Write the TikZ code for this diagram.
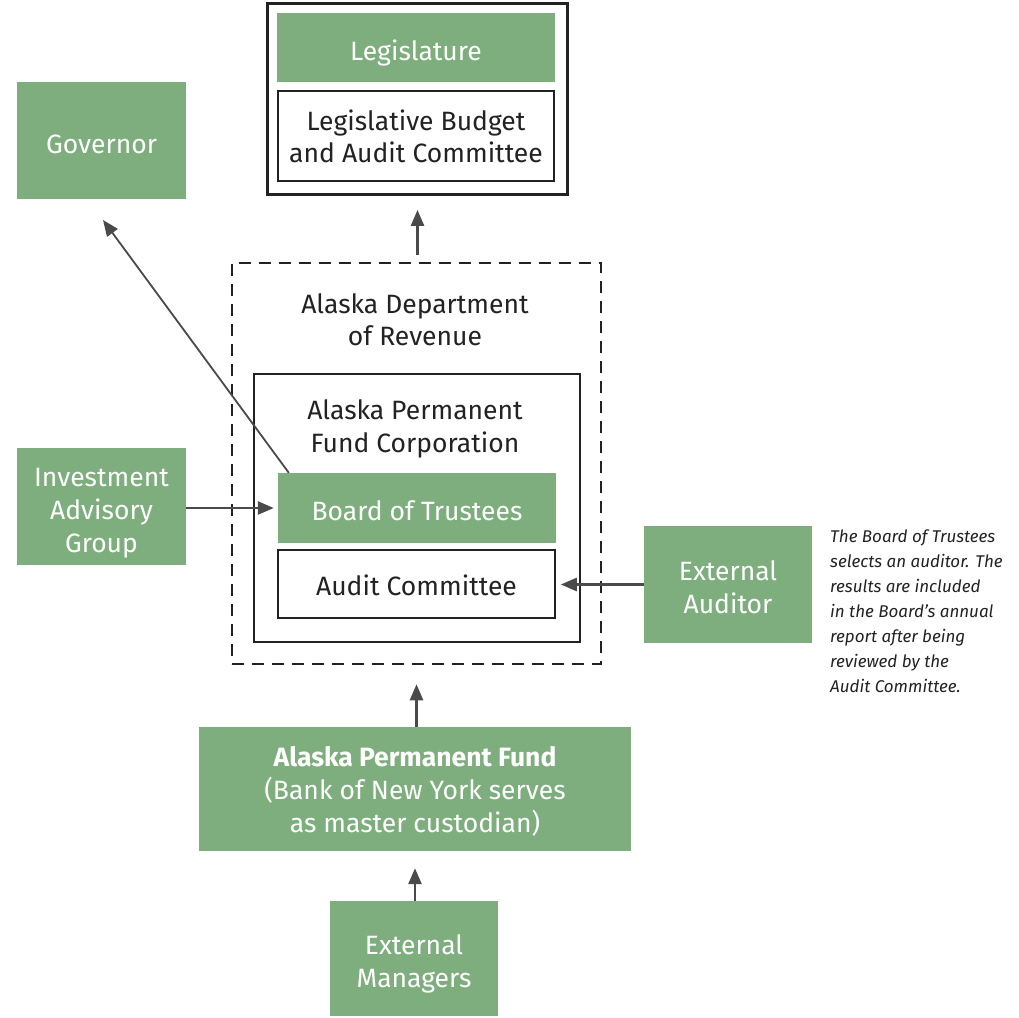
\documentclass[tikz,border=0pt]{standalone}
\usepackage{fontspec}
\setmainfont{Fira Sans}
\usepackage{xcolor}
\usetikzlibrary{arrows.meta}
\definecolor{boxgreen}{RGB}{126,174,125}
\definecolor{linegray}{RGB}{74,74,76}
\definecolor{textdark}{RGB}{34,34,36}
\newcommand\lowerline{\rule{0pt}{25pt}}

\begin{document}
\begin{tikzpicture}[x=1pt, y=-1pt,
% common options for green blocks:
greenbox/.style = {fill=boxgreen, text=white, align=center, inner sep=0,
            text depth=0pt, font=\fontsize{26.5}{33}\selectfont,
            execute at begin node={\rule{0pt}{25pt}}},
% common options for white blocks:
whitebox/.style = {draw=textdark, line width=1.5pt, fill=white, text=textdark,
            align=center, inner sep=0, text depth=0pt, font=\fontsize{26.5}{32}\selectfont,
            execute at begin node={\rule{0pt}{22pt}}},
% common options for frames:
frame/.style = {draw=textdark, line width=2.8pt, inner sep=0},
% common options for the arrows:
link/.style = {draw=linegray, line width=2.5pt, -{Triangle[length=16pt,width=13pt]}}]
\useasboundingbox (0,0) rectangle (1019,1017);
% legislature block
\node[frame, minimum width=300, minimum height=191] (legframe) at (417.5,99) {};
\node[greenbox, minimum width=278, minimum height=69] (leg) at (416,47.5) {Legislature};
\node[whitebox, minimum width=276, minimum height=90] (lbac) at (416,136) {Legislative Budget\\and Audit Committee};
\node[greenbox, minimum width=169, minimum height=117] (gov) at (101.5,140.5) {Governor};
% department of revenue
\node[frame, dashed, dash pattern=on 12pt off 8pt, line width=2.5pt,
      minimum width=369, minimum height=401] (dor) at (416.5,463.5) {};
\node[text=textdark, align=center, font=\fontsize{26.5}{32}\selectfont] (dortext) at (415,320) {Alaska Department\\of Revenue};
\node[frame, minimum width=326, minimum height=268] (apfc) at (417,508) {};
\node[text=textdark, align=center, font=\fontsize{26.5}{33}\selectfont] (apfctext) at (415,428.5) {Alaska Permanent\\Fund Corporation};
\node[greenbox, minimum width=278, minimum height=70] (board) at (417,508) {Board of Trustees};
\node[whitebox, minimum width=277, minimum height=68] (audit) at (416.5,584) {Audit Committee};
% outside blocks
\node[greenbox, minimum width=169, minimum height=117] (iag) at (101.5,506.5) {\lowerline Investment\\Advisory\\Group};
\node[greenbox, minimum width=168, minimum height=117] (extaud) at (728,584.5) {\lowerline External\\Auditor};
\node[text=textdark, align=left, anchor=north west, inner sep=0,
      font=\fontsize{17}{25}\selectfont\itshape] (note) at (830,530)
      {The Board of Trustees\\selects an auditor. The\\results are included\\in the Board’s annual\\report after being\\reviewed by the\\Audit Committee.};
\node[greenbox, minimum width=432, minimum height=124] (apf) at (415,789)
      {\textbf{Alaska Permanent Fund}\\(Bank of New York serves\\as master custodian)};
\node[greenbox, minimum width=168, minimum height=115] (extman) at (414,958.5) {\lowerline External\\Managers};
\coordinate (govtip) at (103,220);
% arrows
\draw[link, shorten <=7pt, shorten >=14pt] (dor.north -| legframe.south) to (legframe.south);
\draw[link, line width=1.8pt] ([xshift=11pt]board.north west) to (govtip);
\draw[link, shorten >=4pt] (iag.east |- board.west) to (board.west);
\draw[link, shorten >=5pt] (extaud.west) to (audit.east |- extaud.west);
\draw[link, shorten >=19pt] (apf.north -| dor.south) to (dor.south);
\draw[link, shorten >=17pt] (extman.north -| apf.south) to (apf.south);
\end{tikzpicture}
\end{document}
